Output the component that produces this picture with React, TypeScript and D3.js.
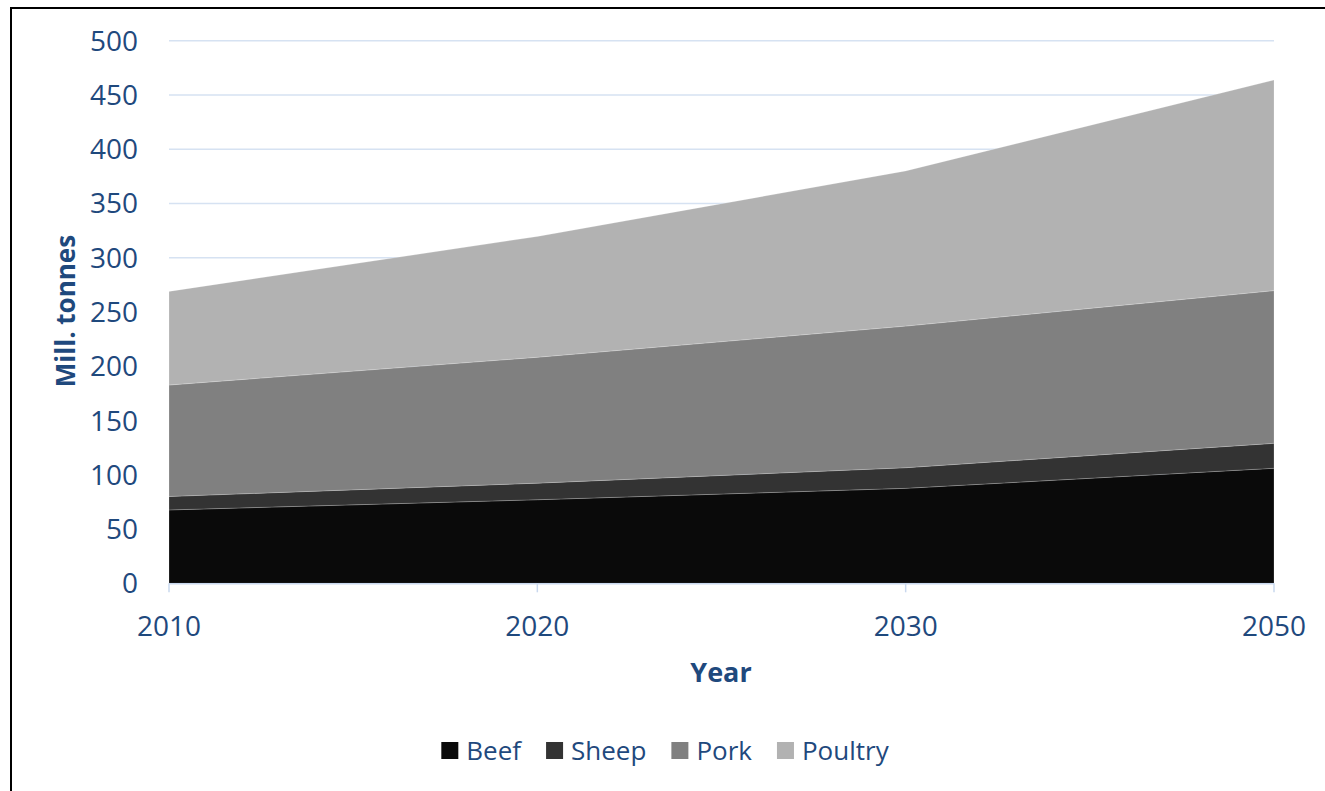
import React, { useEffect, useRef } from "react";
import * as d3 from "d3";

const years = ["2010", "2020", "2030", "2050"];
const seriesNames = ["Beef", "Sheep", "Pork", "Poultry"];
const beef = [67.6, 77, 87.5, 106];
const sheep = [12.4, 15.3, 19, 23];
const pork = [102.7, 116, 130.5, 140.7];
const poultry = [86.3, 111.3, 143, 194.1];
const yTicks = [0, 50, 100, 150, 200, 250, 300, 350, 400, 450, 500];
const colors = ["#0A0A0A", "#333333", "#808080", "#B2B2B2"];

const W = 1325;
const H = 791;
const FONT = "'Open Sans', 'Noto Sans', sans-serif";
const TEXT = "#1F497D";

export default function App() {
  const ref = useRef<SVGSVGElement>(null);

  useEffect(() => {
    const svg = d3.select(ref.current);
    svg.selectAll("*").remove();

    const left = 169, right = 1274, top = 40.7, bottom = 583.3;
    const x = d3.scalePoint<string>().domain(years).range([left, right]);
    const y = d3.scaleLinear().domain([0, 500]).range([bottom, top]);

    const rows = years.map((yr, i) => ({
      year: yr,
      Beef: beef[i],
      Sheep: sheep[i],
      Pork: pork[i],
      Poultry: poultry[i],
    }));
    const stacked = d3.stack<any>().keys(seriesNames)(rows);

    // outer border
    svg.append("rect")
      .attr("x", 11).attr("y", 8)
      .attr("width", W + 20).attr("height", H + 20)
      .attr("fill", "white").attr("stroke", "#000").attr("stroke-width", 2);

    // gridlines
    svg.append("g").selectAll("line").data(yTicks.filter((t) => t > 0)).join("line")
      .attr("x1", left).attr("x2", right)
      .attr("y1", (d) => y(d)).attr("y2", (d) => y(d))
      .attr("stroke", "#D6E2F2").attr("stroke-width", 1.5);

    // areas
    const area = d3.area<any>()
      .x((d) => x(d.data.year)!)
      .y0((d) => y(d[0]))
      .y1((d) => y(d[1]));
    svg.append("g").selectAll("path").data(stacked).join("path")
      .attr("d", (d) => area(d as any))
      .attr("fill", (_d, i) => colors[i])
      .attr("stroke", "rgba(255,255,255,0.25)")
      .attr("stroke-width", 0.8);

    // x axis line and ticks
    svg.append("line")
      .attr("x1", left).attr("x2", right)
      .attr("y1", bottom + 0.5).attr("y2", bottom + 0.5)
      .attr("stroke", "#C9D8EE").attr("stroke-width", 1.5);
    svg.append("g").selectAll("line").data(years).join("line")
      .attr("x1", (d) => x(d)!).attr("x2", (d) => x(d)!)
      .attr("y1", bottom).attr("y2", bottom + 9)
      .attr("stroke", "#C9D8EE").attr("stroke-width", 1.5);

    // y tick labels
    svg.append("g").selectAll("text").data(yTicks).join("text")
      .attr("x", 138).attr("y", (d) => y(d) + 10)
      .attr("text-anchor", "end")
      .attr("font-family", FONT).attr("font-size", 28)
      .attr("fill", TEXT)
      .text((d) => String(d));

    // x tick labels
    svg.append("g").selectAll("text").data(years).join("text")
      .attr("x", (d) => x(d)!).attr("y", 636)
      .attr("text-anchor", "middle")
      .attr("font-family", FONT).attr("font-size", 28)
      .attr("fill", TEXT)
      .text((d) => d);

    // axis titles
    svg.append("text")
      .attr("transform", "translate(75,311) rotate(-90)")
      .attr("text-anchor", "middle")
      .attr("font-family", FONT).attr("font-size", 26).attr("font-weight", "bold")
      .attr("fill", TEXT)
      .text("Mill. tonnes");
    svg.append("text")
      .attr("x", 721).attr("y", 682)
      .attr("text-anchor", "middle")
      .attr("font-family", FONT).attr("font-size", 27).attr("font-weight", "bold")
      .attr("fill", TEXT)
      .text("Year");

    // legend
    const lg = svg.append("g");
    const items = seriesNames.map((name, i) => {
      const g = lg.append("g");
      g.append("rect")
        .attr("x", 0).attr("y", -17.5)
        .attr("width", 17).attr("height", 17)
        .attr("fill", colors[i]);
      const t = g.append("text")
        .attr("x", 25).attr("y", 0)
        .attr("font-family", FONT).attr("font-size", 26)
        .attr("fill", TEXT)
        .text(name);
      const w = (t.node() as SVGTextElement).getComputedTextLength();
      return { g, w: 25 + w };
    });
    const gap = 25;
    const total = items.reduce((s, it) => s + it.w, 0) + gap * (items.length - 1);
    let cx = 665 - total / 2;
    items.forEach((it) => {
      it.g.attr("transform", `translate(${cx},759.5)`);
      cx += it.w + gap;
    });
  }, []);

  return (
    <svg
      ref={ref}
      width={W}
      height={H}
      style={{ position: "absolute", left: 0, top: 0, background: "white" }}
    />
  );
}
